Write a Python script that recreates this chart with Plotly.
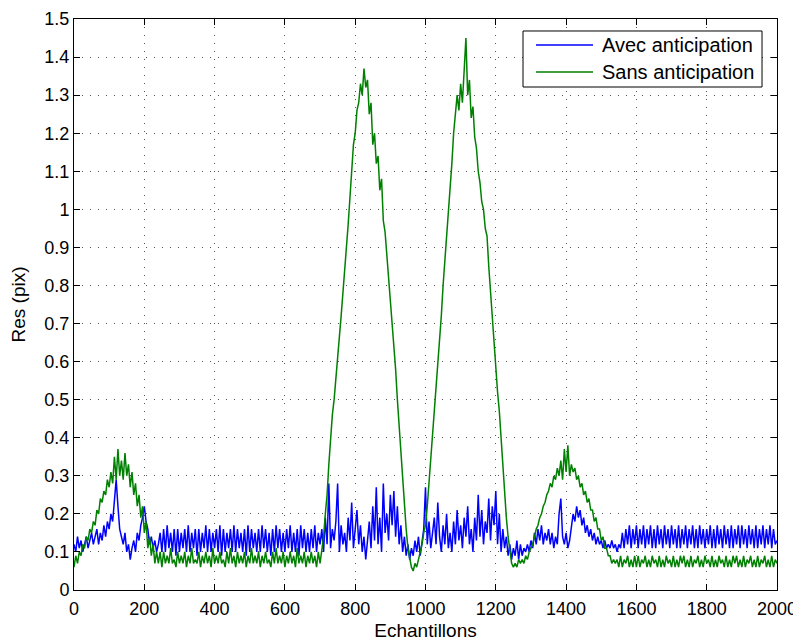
import plotly.graph_objects as go

# Sample step between listed values (samples 0..2000)
step = 5

avec_anticipation = [
    0.12, 0.10, 0.14, 0.11, 0.13, 0.10, 0.12, 0.14, 0.11, 0.13, 0.15, 0.12, 0.14, 0.16, 0.12, 0.15, 0.13, 0.17, 0.14, 0.18,
    0.16, 0.20, 0.18, 0.24, 0.29, 0.22, 0.16, 0.14, 0.12, 0.15, 0.10, 0.12, 0.08, 0.11, 0.13, 0.10, 0.15, 0.13, 0.17, 0.19,
    0.22, 0.18, 0.16, 0.12, 0.14, 0.11, 0.13, 0.10, 0.12, 0.15, 0.10, 0.16, 0.10, 0.17, 0.11, 0.15, 0.10, 0.16, 0.09, 0.16,
    0.10, 0.15, 0.11, 0.16, 0.10, 0.17, 0.10, 0.15, 0.11, 0.16, 0.09, 0.16, 0.10, 0.15, 0.11, 0.17, 0.10, 0.16, 0.10, 0.15,
    0.11, 0.16, 0.10, 0.17, 0.09, 0.16, 0.10, 0.15, 0.11, 0.16, 0.10, 0.17, 0.10, 0.16, 0.11, 0.15, 0.10, 0.16, 0.09, 0.17,
    0.10, 0.16, 0.11, 0.15, 0.10, 0.16, 0.10, 0.17, 0.11, 0.16, 0.10, 0.15, 0.09, 0.16, 0.10, 0.17, 0.11, 0.16, 0.10, 0.15,
    0.10, 0.16, 0.11, 0.17, 0.10, 0.15, 0.10, 0.16, 0.09, 0.17, 0.11, 0.16, 0.10, 0.15, 0.10, 0.16, 0.11, 0.17, 0.10, 0.15,
    0.12, 0.16, 0.10, 0.19, 0.12, 0.28, 0.11, 0.16, 0.13, 0.18, 0.28, 0.10, 0.17, 0.12, 0.15, 0.10, 0.19, 0.13, 0.23, 0.11,
    0.16, 0.21, 0.12, 0.17, 0.10, 0.14, 0.08, 0.13, 0.18, 0.11, 0.22, 0.13, 0.27, 0.12, 0.19, 0.10, 0.28, 0.15, 0.20, 0.13,
    0.25, 0.17, 0.26, 0.14, 0.22, 0.12, 0.17, 0.10, 0.14, 0.09, 0.12, 0.08, 0.11, 0.09, 0.13, 0.10, 0.14, 0.09, 0.12, 0.16,
    0.27, 0.12, 0.18, 0.11, 0.15, 0.19, 0.12, 0.23, 0.14, 0.10, 0.17, 0.12, 0.20, 0.11, 0.15, 0.10, 0.18, 0.12, 0.21, 0.13,
    0.17, 0.11, 0.19, 0.14, 0.22, 0.12, 0.16, 0.10, 0.19, 0.13, 0.25, 0.14, 0.21, 0.12, 0.18, 0.15, 0.24, 0.13, 0.22, 0.17,
    0.26, 0.12, 0.20, 0.10, 0.16, 0.11, 0.14, 0.09, 0.12, 0.08, 0.11, 0.09, 0.13, 0.08, 0.12, 0.09, 0.11, 0.10, 0.12, 0.10,
    0.13, 0.11, 0.15, 0.12, 0.16, 0.13, 0.17, 0.12, 0.15, 0.13, 0.16, 0.12, 0.15, 0.11, 0.14, 0.12, 0.20, 0.24, 0.14, 0.12,
    0.15, 0.11, 0.13, 0.17, 0.20, 0.18, 0.22, 0.19, 0.21, 0.17, 0.19, 0.15, 0.17, 0.14, 0.16, 0.13, 0.15, 0.12, 0.14, 0.12,
    0.13, 0.11, 0.13, 0.11, 0.12, 0.11, 0.13, 0.11, 0.12, 0.10, 0.12, 0.11, 0.15, 0.11, 0.16, 0.12, 0.17, 0.11, 0.16, 0.12,
    0.17, 0.11, 0.16, 0.12, 0.17, 0.11, 0.16, 0.12, 0.17, 0.11, 0.16, 0.11, 0.17, 0.12, 0.16, 0.11, 0.17, 0.12, 0.16, 0.11,
    0.17, 0.12, 0.16, 0.11, 0.17, 0.11, 0.16, 0.12, 0.17, 0.11, 0.16, 0.12, 0.17, 0.11, 0.16, 0.11, 0.17, 0.12, 0.16, 0.11,
    0.16, 0.12, 0.17, 0.11, 0.16, 0.11, 0.17, 0.12, 0.16, 0.11, 0.17, 0.12, 0.16, 0.11, 0.17, 0.11, 0.16, 0.12, 0.17, 0.11,
    0.17, 0.12, 0.16, 0.11, 0.17, 0.12, 0.16, 0.11, 0.17, 0.11, 0.16, 0.12, 0.17, 0.11, 0.16, 0.12, 0.17, 0.11, 0.16, 0.12,
    0.13,
]

sans_anticipation = [
    0.06, 0.09, 0.07, 0.10, 0.09, 0.12, 0.11, 0.14, 0.13, 0.16, 0.15, 0.18, 0.17, 0.21, 0.20, 0.24, 0.23, 0.26, 0.25, 0.29,
    0.27, 0.31, 0.28, 0.35, 0.29, 0.37, 0.30, 0.34, 0.29, 0.36, 0.30, 0.33, 0.27, 0.31, 0.25, 0.28, 0.22, 0.25, 0.19, 0.22,
    0.15, 0.18, 0.11, 0.14, 0.09, 0.12, 0.07, 0.10, 0.07, 0.10, 0.06, 0.10, 0.07, 0.09, 0.07, 0.11, 0.07, 0.08, 0.06, 0.10,
    0.07, 0.09, 0.07, 0.10, 0.06, 0.09, 0.07, 0.11, 0.07, 0.08, 0.07, 0.10, 0.06, 0.09, 0.07, 0.10, 0.07, 0.09, 0.06, 0.11,
    0.07, 0.09, 0.07, 0.10, 0.07, 0.08, 0.06, 0.10, 0.07, 0.11, 0.07, 0.09, 0.06, 0.10, 0.07, 0.09, 0.07, 0.10, 0.06, 0.09,
    0.07, 0.11, 0.07, 0.09, 0.07, 0.10, 0.06, 0.09, 0.07, 0.10, 0.07, 0.08, 0.06, 0.10, 0.07, 0.11, 0.07, 0.09, 0.07, 0.10,
    0.06, 0.09, 0.07, 0.10, 0.07, 0.09, 0.06, 0.11, 0.07, 0.09, 0.07, 0.10, 0.06, 0.09, 0.07, 0.10, 0.07, 0.09, 0.06, 0.10,
    0.07, 0.10, 0.14, 0.20, 0.25, 0.33, 0.40, 0.46, 0.50, 0.55, 0.60, 0.66, 0.72, 0.78, 0.85, 0.90, 0.96, 1.02, 1.10, 1.17,
    1.20, 1.26, 1.28, 1.33, 1.30, 1.37, 1.32, 1.34, 1.25, 1.28, 1.17, 1.20, 1.12, 1.14, 1.05, 1.08, 0.97, 0.94, 0.88, 0.83,
    0.78, 0.72, 0.65, 0.58, 0.50, 0.43, 0.35, 0.28, 0.22, 0.16, 0.11, 0.08, 0.06, 0.05, 0.07, 0.06, 0.08, 0.10, 0.12, 0.15,
    0.17, 0.22, 0.28, 0.35, 0.42, 0.48, 0.54, 0.60, 0.66, 0.72, 0.80, 0.86, 0.92, 0.98, 1.06, 1.12, 1.20, 1.25, 1.30, 1.26,
    1.33, 1.28, 1.36, 1.45, 1.30, 1.34, 1.24, 1.27, 1.19, 1.16, 1.10, 1.07, 1.02, 1.00, 0.95, 0.93, 0.85, 0.78, 0.72, 0.65,
    0.58, 0.52, 0.47, 0.40, 0.32, 0.25, 0.19, 0.14, 0.10, 0.07, 0.06, 0.07, 0.06, 0.08, 0.07, 0.08, 0.07, 0.09, 0.08, 0.10,
    0.11, 0.12, 0.14, 0.16, 0.17, 0.19, 0.20, 0.22, 0.23, 0.25, 0.26, 0.28, 0.27, 0.30, 0.29, 0.32, 0.30, 0.34, 0.29, 0.37,
    0.31, 0.38, 0.30, 0.33, 0.31, 0.32, 0.29, 0.30, 0.27, 0.28, 0.25, 0.26, 0.23, 0.24, 0.21, 0.21, 0.18, 0.19, 0.16, 0.16,
    0.13, 0.14, 0.11, 0.11, 0.09, 0.09, 0.07, 0.08, 0.07, 0.08, 0.06, 0.09, 0.06, 0.08, 0.07, 0.09, 0.06, 0.08, 0.06, 0.09,
    0.06, 0.09, 0.06, 0.08, 0.07, 0.09, 0.06, 0.08, 0.06, 0.09, 0.07, 0.08, 0.06, 0.09, 0.06, 0.08, 0.06, 0.09, 0.07, 0.08,
    0.06, 0.09, 0.06, 0.08, 0.06, 0.09, 0.07, 0.09, 0.06, 0.08, 0.06, 0.09, 0.06, 0.08, 0.07, 0.09, 0.06, 0.08, 0.06, 0.09,
    0.07, 0.08, 0.06, 0.09, 0.06, 0.08, 0.06, 0.09, 0.07, 0.08, 0.06, 0.09, 0.06, 0.08, 0.06, 0.09, 0.07, 0.09, 0.06, 0.08,
    0.06, 0.09, 0.06, 0.08, 0.07, 0.09, 0.06, 0.08, 0.06, 0.09, 0.06, 0.08, 0.07, 0.09, 0.06, 0.08, 0.06, 0.09, 0.06, 0.08,
    0.07,
]

assert len(avec_anticipation) == 401, len(avec_anticipation)
assert len(sans_anticipation) == 401, len(sans_anticipation)

samples = [i * step for i in range(len(avec_anticipation))]

series_names = ["Avec anticipation", "Sans anticipation"]
series_colors = ["#0000ff", "#008000"]

x_ticks = [0, 200, 400, 600, 800, 1000, 1200, 1400, 1600, 1800, 2000]

fig = go.Figure()
for name, vals, col in zip(series_names, [avec_anticipation, sans_anticipation], series_colors):
    fig.add_trace(go.Scatter(x=samples, y=vals, mode="lines", name=name,
                             line=dict(color=col, width=1.5), showlegend=False))

axis_common = dict(
    showgrid=True, gridcolor="#555555", griddash="1px,7px", gridwidth=1,
    showline=True, linecolor="black", linewidth=1, mirror="ticks",
    ticks="inside", ticklen=6, tickcolor="black", tickwidth=1,
    zeroline=False, tickfont=dict(size=18, color="black"), automargin=False,
)

# Legend drawn in axis-domain coordinates (box, line samples, labels)
leg_box = dict(x0=0.6387, x1=0.9787, y0=0.8809, y1=0.979)
leg_rows = [0.9545, 0.9072]
shapes = [dict(type="rect", xref="x domain", yref="y domain", **leg_box,
               line=dict(color="black", width=1), fillcolor="white", layer="above")]
annotations = []
for name, col, yy in zip(series_names, series_colors, leg_rows):
    shapes.append(dict(type="line", xref="x domain", yref="y domain",
                       x0=0.6572, x1=0.7383, y0=yy, y1=yy,
                       line=dict(color=col, width=1.5), layer="above"))
    annotations.append(dict(text=name, xref="x domain", yref="y domain", x=0.7482, y=yy,
                            xanchor="left", yanchor="middle", showarrow=False,
                            font=dict(size=20, color="black")))

fig.update_layout(
    width=793, height=633,
    margin=dict(l=66, r=24, t=11, b=51),
    plot_bgcolor="white", paper_bgcolor="white",
    font=dict(family="Liberation Sans, Arial, sans-serif", size=18, color="black"),
    xaxis=dict(range=[0, 2000], tickvals=x_ticks, ticklabelstandoff=2,
               title=dict(text="Echantillons", font=dict(size=19), standoff=6), **axis_common),
    yaxis=dict(range=[0, 1.5], dtick=0.1, tick0=0,
               title=dict(text="Res (pix)", font=dict(size=19), standoff=16), **axis_common),
    shapes=shapes, annotations=annotations,
    showlegend=False,
)

fig.write_html("out.html")
